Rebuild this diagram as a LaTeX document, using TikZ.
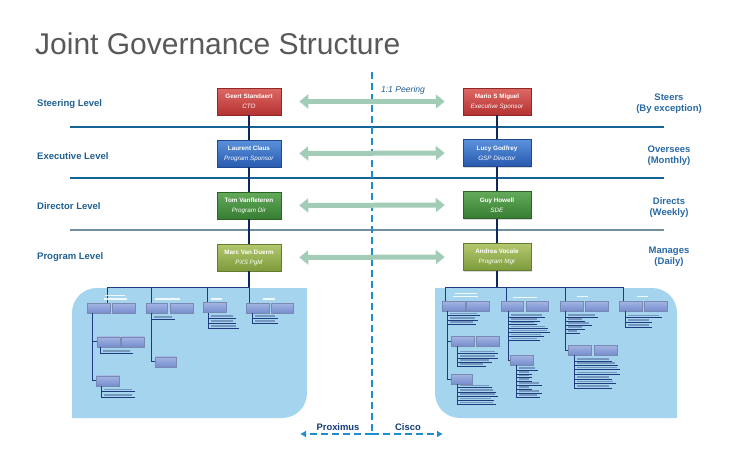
\documentclass[tikz,border=0pt]{standalone}
\usepackage{fontspec}
\setmainfont{Liberation Sans}
\usetikzlibrary{positioning,shadows,arrows.meta}

\definecolor{titlegray}{RGB}{89,89,89}
\definecolor{levelblue}{RGB}{31,95,145}
\definecolor{cadblue}{RGB}{40,105,165}
\definecolor{ruleblue}{RGB}{20,100,150}
\definecolor{dashblue}{RGB}{30,140,205}
\definecolor{navy}{RGB}{15,40,100}
\definecolor{peergreen}{RGB}{163,204,183}
\definecolor{panelblue}{RGB}{165,212,238}
\definecolor{orgnavy}{RGB}{30,60,125}
\definecolor{itemgray}{RGB}{80,100,150}
\definecolor{redtop}{RGB}{222,105,100}
\definecolor{redbot}{RGB}{180,50,50}
\definecolor{bluetop}{RGB}{90,145,220}
\definecolor{bluebot}{RGB}{40,90,175}
\definecolor{greentop}{RGB}{100,170,90}
\definecolor{greenbot}{RGB}{55,125,50}
\definecolor{limetop}{RGB}{180,200,110}
\definecolor{limebot}{RGB}{125,155,60}
\definecolor{boxtop}{RGB}{165,182,228}
\definecolor{boxbot}{RGB}{118,142,205}

\tikzset{
  person/.style={minimum width=64pt, minimum height=27pt, inner sep=1pt, align=center,
    text=white, font=\fontsize{6.3}{10}\selectfont, line width=0.5pt,
    drop shadow={opacity=0.3, shadow xshift=1pt, shadow yshift=-1pt}},
  redperson/.style={person, top color=redtop, bottom color=redbot, draw=redbot!80!black},
  blueperson/.style={person, top color=bluetop, bottom color=bluebot, draw=bluebot!80!black},
  greenperson/.style={person, top color=greentop, bottom color=greenbot, draw=greenbot!80!black},
  limeperson/.style={person, top color=limetop, bottom color=limebot, draw=limebot!80!black},
  levellabel/.style={anchor=west, inner sep=0pt, text=levelblue, font=\fontsize{9.5}{11}\selectfont\bfseries},
  cadence/.style={align=center, inner sep=0pt, text=cadblue, font=\fontsize{9.5}{11}\selectfont\bfseries},
  levelrule/.style={ruleblue, line width=1.5pt},
  dashline/.style={dashblue, line width=2.5pt, dash pattern=on 7pt off 4pt},
  navyline/.style={navy, line width=2.5pt},
  peerarrow/.style={peergreen, line width=5pt, {Triangle[width=14pt,length=9pt]}-{Triangle[width=14pt,length=9pt]},
    shorten <=18pt, shorten >=18pt},
  orgbox/.style={minimum width=23pt, minimum height=10pt, inner sep=0pt, top color=boxtop,
    bottom color=boxbot, draw=orgnavy!60, line width=0.4pt},
  orgrule/.style={orgnavy, line width=0.7pt},
  itembar/.style={itemgray, line width=1.4pt, opacity=0.55},
  headbar/.style={white, line width=1.3pt, opacity=0.85}
}

\begin{document}
\begin{tikzpicture}[x=1pt,y=-1pt]
\useasboundingbox (0,0) rectangle (750,463);

\node[anchor=base west, inner sep=0pt, text=titlegray, font=\fontsize{30}{36}\selectfont] (title) at (35,54) {Joint Governance Structure};

\draw[levelrule, line width=2.2pt] (70,127) -- (664,127);
\draw[levelrule] (70,178) -- (664,178);
\draw[levelrule, color=ruleblue!45!gray!80] (70,230) -- (664,230);

\node[levellabel] (steering) at (37,104) {Steering Level};
\node[levellabel] (executive) at (37,156) {Executive Level};
\node[levellabel] (director) at (37,206) {Director Level};
\node[levellabel] (program) at (37,257) {Program Level};

\node[cadence] (steers) at (669,104) {Steers\\(By exception)};
\node[cadence] (oversees) at (669,155.5) {Oversees\\(Monthly)};
\node[cadence] (directs) at (669,207.5) {Directs\\(Weekly)};
\node[cadence] (manages) at (669,256.7) {Manages\\(Daily)};

\fill[panelblue] (72,418) -- (72,313) .. controls (72,299) and (83,288) .. (97,288) -- (307,288)
  -- (307,393) .. controls (307,407) and (296,418) .. (282,418) -- cycle;
\fill[panelblue] (435,288) -- (652,288) .. controls (666,288) and (677,299) .. (677,313)
  -- (677,418) -- (460,418) .. controls (446,418) and (435,407) .. (435,393) -- cycle;

\coordinate (dtop) at (372,72);
\coordinate (dbot) at (372,434);
\coordinate (pxend) at (300,434);
\coordinate (csend) at (443,434);
\draw[dashline] (dtop) -- (dbot);
\draw[dashline, -{Latex[length=6pt,width=7pt]}] (dbot) -- (pxend);
\draw[dashline, -{Latex[length=6pt,width=7pt]}] (dbot) -- (csend);
\node[text=navy!80!dashblue, font=\fontsize{9.4}{11}\selectfont\bfseries] (proximus) at (338,427) {Proximus};
\node[text=navy!80!dashblue, font=\fontsize{9.4}{11}\selectfont\bfseries] (cisco) at (408,427) {Cisco};
\node[text=levelblue, font=\fontsize{8.6}{10}\selectfont\itshape] (peering) at (403,90) {1:1 Peering};

\node[redperson] (gs) at (249,101.5) {\textbf{Geert Standaert}\\\textit{CTO}};
\node[blueperson] (lc) at (249,153.5) {\textbf{Laurent Claus}\\\textit{Program Sponsor}};
\node[greenperson] (tv) at (249,205.5) {\textbf{Tom Vanfleteren}\\\textit{Program Dir}};
\node[limeperson] (md) at (249,257.5) {\textbf{Marc Van Duerm}\\\textit{PXS PgM}};

\node[redperson, minimum width=68pt] (ms) at (497,101.5) {\textbf{Mario S Miguel}\\\textit{Executive Sponsor}};
\node[blueperson, minimum width=68pt] (lg) at (497,153) {\textbf{Lucy Godfrey}\\\textit{GSP Director}};
\node[greenperson, minimum width=68pt] (gh) at (497,205) {\textbf{Guy Howell}\\\textit{SDE}};
\node[limeperson, minimum width=68pt] (av) at (497,257) {\textbf{Andrea Vocale}\\\textit{Program Mgr}};

\coordinate (lbus) at (md.south |- 0,287);
\coordinate (rbus) at (av.south |- 0,287);
\begin{scope}[on background layer/.try]
\draw[navyline] (gs.south) -- (lc.north);
\draw[navyline] (lc.south) -- (tv.north);
\draw[navyline] (tv.south) -- (md.north);
\draw[navyline] (md.south) -- (lbus);
\draw[navyline] (ms.south) -- (lg.north);
\draw[navyline] (lg.south) -- (gh.north);
\draw[navyline] (gh.south) -- (av.north);
\draw[navyline] (av.south) -- (rbus);
\end{scope}

\draw[peerarrow] (gs.east) -- (ms.west);
\draw[peerarrow] (lc.east) -- (lg.west);
\draw[peerarrow] (tv.east) -- (gh.west);
\draw[peerarrow] (md.east) -- (av.west);

% left panel
\coordinate (lc1) at (107,287);
\coordinate (lc2) at (151,287);
\coordinate (lc3) at (207.5,287);
\draw[orgrule, line width=1pt] (lc1) -- (lbus);
\node[orgbox] (la) at (98.7,308) {};
\node[orgbox] (lb) at (123.5,308) {};
\node[orgbox] (lcb) at (108.3,341.7) {};
\node[orgbox] (ld) at (132.8,341.7) {};
\node[orgbox] (le) at (108,380.7) {};
\node[orgbox, minimum width=21pt] (lf) at (156.5,308) {};
\node[orgbox] (lg2) at (181.5,308) {};
\node[orgbox, minimum width=21pt] (lh) at (166,361.7) {};
\node[orgbox] (li) at (214.5,307.5) {};
\node[orgbox] (lj) at (258,308) {};
\node[orgbox, minimum width=22pt] (lk) at (282.5,308) {};
\draw[orgrule] (lc1) -- (lc1 |- la.north);
\draw[orgrule] (lc2) -- (lc2 |- lf.north);
\draw[orgrule] (lc3) -- (lc3 |- li.north);
\draw[orgrule] (lbus) -- (lbus |- lj.north);
\draw[orgrule] (la.south -| 92,0) |- (lcb.west);
\draw[orgrule] (la.south -| 92,0) |- (le.west);
\draw[orgrule] (lf.south -| 151,0) |- (lh.west);
\draw[orgrule] (lcb.south -| 100,0) -- (100,353);
\draw[orgrule] (le.south -| 101,0) -- (101,397.3);
\draw[orgrule] (li.south -| 208,0) -- (208,328.3);
\draw[orgrule] (lj.south -| 252,0) -- (252,323.3);
\foreach \y/\e in {353/133} {\draw[itembar] (103,\y-2.2) -- (\e-3,\y-2.2); \draw[orgrule] (100,\y) -- (\e,\y);}
\foreach \y/\e in {391.7/135, 397.3/135} {\draw[itembar] (104,\y-2.2) -- (\e-3,\y-2.2); \draw[orgrule] (101,\y) -- (\e,\y);}
\foreach \y/\e in {319.3/175} {\draw[itembar] (154,\y-2.2) -- (\e-3,\y-2.2); \draw[orgrule] (151,\y) -- (\e,\y);}
\foreach \y/\e in {318.3/236, 323.3/236, 328.3/239} {\draw[itembar] (211,\y-2.2) -- (\e-3,\y-2.2); \draw[orgrule] (208,\y) -- (\e,\y);}
\foreach \y/\e in {318.3/278, 323.3/278} {\draw[itembar] (255,\y-2.2) -- (\e-3,\y-2.2); \draw[orgrule] (252,\y) -- (\e,\y);}
\draw[headbar] (105,295.5) -- (125,295.5);
\draw[headbar] (104,299) -- (127,299);
\draw[headbar] (155,299) -- (180,299);
\draw[headbar] (211,299) -- (222,299);
\draw[headbar] (263,299) -- (275,299);

% right panel
\coordinate (rc1) at (445,287);
\coordinate (rc2) at (506,287);
\coordinate (rc3) at (565,287);
\coordinate (rc4) at (623,287);
\draw[orgrule, line width=1pt] (rc1) -- (rc4);
\node[orgbox] (ra) at (454,306) {};
\node[orgbox] (rb) at (478,306) {};
\node[orgbox] (rn) at (462.5,341) {};
\node[orgbox] (ro) at (488,341) {};
\node[orgbox, minimum width=21pt] (rp) at (462,379) {};
\node[orgbox, minimum width=22pt] (rq) at (512.5,306) {};
\node[orgbox, minimum width=22pt] (rr) at (537.5,306) {};
\node[orgbox] (rs) at (522,360) {};
\node[orgbox] (rt) at (571.5,306) {};
\node[orgbox] (ru) at (596.5,306) {};
\node[orgbox] (rv) at (580,350) {};
\node[orgbox] (rw) at (606,350) {};
\node[orgbox] (rx) at (630.5,306) {};
\node[orgbox] (ry) at (655.3,306) {};
\draw[orgrule] (rc1) -- (rc1 |- ra.north);
\draw[orgrule] (rc2) -- (rc2 |- rq.north);
\draw[orgrule] (rc3) -- (rc3 |- rt.north);
\draw[orgrule] (rc4) -- (rc4 |- rx.north);
\draw[orgrule] (ra.south -| 447,0) |- (rn.west);
\draw[orgrule] (ra.south -| 447,0) |- (rp.west);
\draw[orgrule] (rq.south -| 508,0) |- (rs.west);
\draw[orgrule] (rt.south -| 565,0) |- (rv.west);
\draw[orgrule] (rn.south -| 457,0) -- (457,366);
\draw[orgrule] (rp.south -| 457,0) -- (457,404.5);
\draw[orgrule] (rs.south -| 516,0) -- (516,397);
\draw[orgrule] (rv.south -| 574,0) -- (574,388);
\draw[orgrule] (rx.south -| 625,0) -- (625,327.3);
\foreach \y/\e in {315.7/480, 320/478, 324.3/476} {\draw[itembar] (450,\y-2.2) -- (\e-3,\y-2.2); \draw[orgrule] (447,\y) -- (\e,\y);}
\foreach \y/\e in {353.5/498, 358/498, 362/492, 366/486} {\draw[itembar] (460,\y-2.2) -- (\e-3,\y-2.2); \draw[orgrule] (457,\y) -- (\e,\y);}
\foreach \y/\e in {387.5/492, 392/496, 396/498, 400.5/494, 404.5/496} {\draw[itembar] (460,\y-2.2) -- (\e-3,\y-2.2); \draw[orgrule] (457,\y) -- (\e,\y);}
\foreach \y/\e in {317/545, 321/540, 324.5/537, 328.5/548, 332.5/550, 336.5/544, 340.5/540} {\draw[itembar] (511,\y-2.2) -- (\e-3,\y-2.2); \draw[orgrule] (508,\y) -- (\e,\y);}
\foreach \y/\e in {370/538, 374/532, 377.5/532, 381/532, 385/542, 389/532, 393/542, 397/540} {\draw[itembar] (519,\y-2.2) -- (\e-3,\y-2.2); \draw[orgrule] (516,\y) -- (\e,\y);}
\foreach \y/\e in {317.3/598, 321/585, 325.3/592, 329.3/585, 333.3/580} {\draw[itembar] (568,\y-2.2) -- (\e-3,\y-2.2); \draw[orgrule] (566,\y) -- (\e,\y);}
\foreach \y/\e in {361/612, 365.3/618, 369.7/620, 374.5/620, 379/612, 383.5/616, 388/612} {\draw[itembar] (577,\y-2.2) -- (\e-3,\y-2.2); \draw[orgrule] (574,\y) -- (\e,\y);}
\foreach \y/\e in {317.7/662, 322.3/652, 327.3/652} {\draw[itembar] (628,\y-2.2) -- (\e-3,\y-2.2); \draw[orgrule] (625,\y) -- (\e,\y);}
\draw[headbar] (455,293.3) -- (477,293.3);
\draw[headbar] (453,296.7) -- (478,296.7);
\draw[headbar] (513,297.7) -- (537,297.7);
\draw[headbar] (577,296.7) -- (588,296.7);
\draw[headbar] (637,296.7) -- (648,296.7);
\end{tikzpicture}
\end{document}
